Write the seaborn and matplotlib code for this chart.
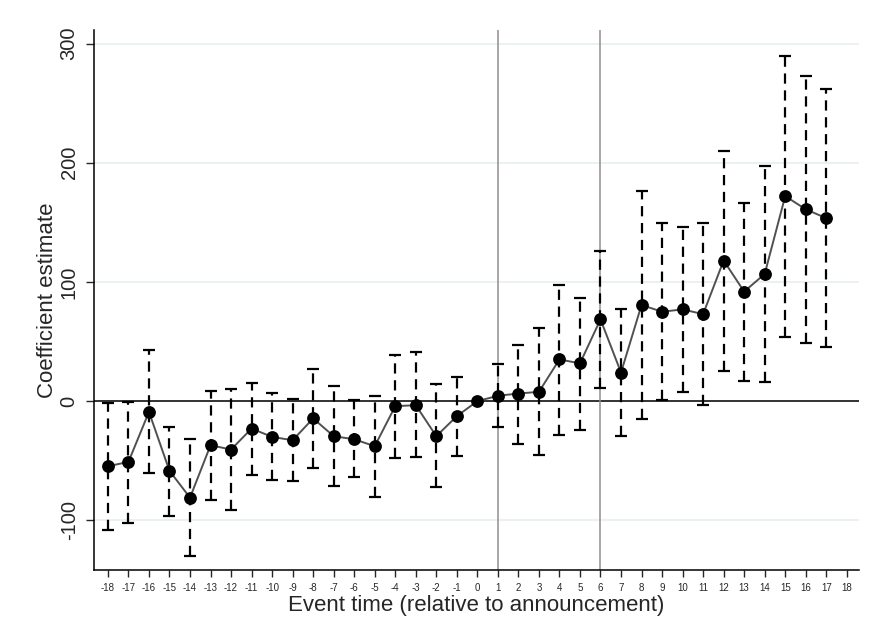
import numpy as np
import pandas as pd
import matplotlib
matplotlib.use("Agg")
import matplotlib.pyplot as plt
import seaborn as sns

# ---- data ----
event_time = list(range(-18, 18))
coef = [-54.6, -51.0, -9.0, -58.5, -81.0, -37.0, -40.6, -23.0, -30.0, -32.8,
        -14.5, -29.4, -32.0, -37.8, -4.2, -3.4, -29.4, -12.6, 0.0,
        4.5, 6.4, 7.8, 35.0, 31.7, 68.6, 24.0, 80.7, 75.0, 77.0, 73.0,
        118.0, 91.9, 106.7, 172.0, 161.0, 153.5]
ci_upper = [-1.4, -0.5, 43.0, -21.5, -32.0, 8.7, 10.0, 15.0, 7.0, 2.2,
            27.0, 12.6, 1.0, 4.5, 38.7, 41.0, 14.0, 20.4, np.nan,
            30.8, 47.3, 61.0, 97.5, 86.6, 126.0, 77.0, 176.0, 149.8, 146.5, 149.8,
            210.0, 166.0, 197.0, 290.0, 273.0, 262.0]
ci_lower = [-108.0, -102.0, -60.0, -96.0, -130.0, -83.0, -91.6, -61.6, -66.0, -67.0,
            -55.7, -71.4, -63.6, -80.4, -47.6, -47.0, -72.0, -46.0, np.nan,
            -21.6, -35.6, -45.4, -28.6, -23.8, 11.2, -29.0, -14.6, 0.8, 7.3, -3.4,
            25.5, 17.0, 16.2, 54.0, 49.0, 45.6]
xticks = list(range(-18, 19))
yticks = [-100, 0, 100, 200, 300]
event_lines = [1, 6]

df = pd.DataFrame({"event_time": event_time, "coef": coef,
                   "ci_upper": ci_upper, "ci_lower": ci_lower})
ci = df.dropna()

# ---- style ----
sns.set_style("white")
plt.rcParams["font.family"] = ["Liberation Sans", "DejaVu Sans"]

fig = plt.figure(figsize=(8.7, 6.43), dpi=100)
ax = fig.add_axes([0.108, 0.1135, 0.879, 0.8398])

# confidence intervals (dashed, capped)
eb = ax.errorbar(ci["event_time"], ci["coef"],
                 yerr=[ci["coef"] - ci["ci_lower"], ci["ci_upper"] - ci["coef"]],
                 fmt="none", ecolor="black", elinewidth=1.6,
                 capsize=4.4, capthick=1.6, zorder=2)
eb[2][0].set_linestyle((0, (4.6, 3.0)))

sns.lineplot(data=df, x="event_time", y="coef", color="#505050",
             linewidth=1.4, ax=ax, zorder=3)
sns.scatterplot(data=df, x="event_time", y="coef", color="black",
                s=85, linewidth=0, ax=ax, zorder=4)

# reference lines
ax.axhline(0, color="black", linewidth=1.1, zorder=1)
for xl in event_lines:
    ax.axvline(xl, color="#8f8f8f", linewidth=1.1, zorder=1)

ax.set_xlim(-18.68, 18.58)
ax.set_ylim(-141.7, 311.4)

ax.set_xticks(xticks)
ax.set_xticklabels([str(t) for t in xticks], fontsize=7)
ax.set_yticks(yticks)
ax.set_yticklabels([str(t) for t in yticks], fontsize=14.5, rotation=90, va="center")

ax.grid(axis="y", color="#e6eef0", linewidth=1.1)
ax.grid(axis="x", visible=False)

ax.tick_params(axis="y", direction="out", length=6, width=1.0, pad=5, left=True)
ax.tick_params(axis="x", direction="out", length=5, width=1.0, pad=4, bottom=True)

for side in ["top", "right"]:
    ax.spines[side].set_visible(False)
for side in ["left", "bottom"]:
    ax.spines[side].set_color("black")
    ax.spines[side].set_linewidth(1.1)

ax.set_xlabel("Event time (relative to announcement)", fontsize=16, labelpad=2)
ax.set_ylabel("Coefficient estimate", fontsize=16, labelpad=1)

fig.savefig("out.png", dpi=100)
